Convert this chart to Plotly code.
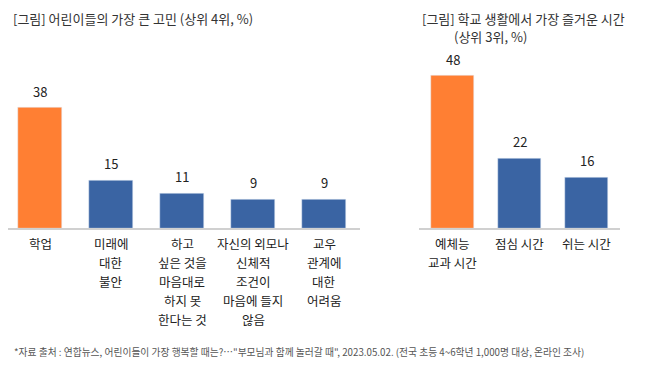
import plotly.graph_objects as go

left_cats = ["학업", "미래에<br>대한<br>불안", "하고<br>싶은 것을<br>마음대로<br>하지 못<br>한다는 것",
             "자신의 외모나<br>신체적<br>조건이<br>마음에 들지<br>않음", "교우<br>관계에<br>대한<br>어려움"]
left_vals = [38, 15, 11, 9, 9]
left_colors = ["#FF7F33", "#3A64A3", "#3A64A3", "#3A64A3", "#3A64A3"]

right_cats = ["예체능<br>교과 시간", "점심 시간", "쉬는 시간"]
right_vals = [48, 22, 16]
right_colors = ["#FF7F33", "#3A64A3", "#3A64A3"]

title_left = "[그림] 어린이들의 가장 큰 고민 (상위 4위, %)"
title_right_1 = "[그림] 학교 생활에서 가장 즐거운 시간"
title_right_2 = "(상위 3위, %)"
footer = "*자료 출처 : 연합뉴스, 어린이들이 가장 행복할 때는?…\"부모님과 함께 놀러갈 때\", 2023.05.02. (전국 초등 4~6학년 1,000명 대상, 온라인 조사)"

FONT = "Noto Sans CJK KR"
TXT = "#222222"

# page has 8px body margin; figure is sized to fit the 647x378 window
OFF = 8
W, H = 647 - OFF, 378 - OFF
def px(x):
    return max(0.0, (x - OFF) / W)
def py(y):
    return 1 - (y - OFF) / H

fig = go.Figure()
fig.add_trace(go.Bar(x=list(range(len(left_vals))), y=left_vals, marker_color=left_colors,
                     width=0.63, xaxis="x", yaxis="y", hoverinfo="skip"))
fig.add_trace(go.Bar(x=list(range(len(right_vals))), y=right_vals, marker_color=right_colors,
                     width=0.63, xaxis="x2", yaxis="y2", hoverinfo="skip"))

ann = []
def add_labels(cats, vals, xr, yr):
    for i, (c, v) in enumerate(zip(cats, vals)):
        ann.append(dict(x=i, y=v, xref=xr, yref=yr, text=str(v), showarrow=False,
                        yanchor="bottom", yshift=5, font=dict(size=13, color=TXT, family=FONT)))
        for j, line in enumerate(c.split("<br>")):
            ann.append(dict(x=i, y=0, xref=xr, yref=yr, text=line, showarrow=False,
                            yanchor="middle", yshift=-15 - 19 * j,
                            font=dict(size=12.5, color=TXT, family=FONT)))

add_labels(left_cats, left_vals, "x", "y")
add_labels(right_cats, right_vals, "x2", "y2")

tfont = dict(size=13, color="#333333", family=FONT)
ann.append(dict(x=px(12), y=py(8), xref="paper", yref="paper", text=title_left, showarrow=False,
                xanchor="left", yanchor="top", borderpad=0, font=tfont))
ann.append(dict(x=px(421), y=py(8), xref="paper", yref="paper", text=title_right_1, showarrow=False,
                xanchor="left", yanchor="top", borderpad=0, font=tfont))
ann.append(dict(x=px(453), y=py(26), xref="paper", yref="paper", text=title_right_2, showarrow=False,
                xanchor="left", yanchor="top", borderpad=0, font=tfont))
ann.append(dict(x=px(12), y=py(352), xref="paper", yref="paper", text=footer, showarrow=False,
                xanchor="left", yanchor="middle", font=dict(size=9.75, color="#555555", family=FONT)))

bottom = py(228)
top = py(228 - 158.5)
cat_w = 71.0
left_start = -0.5 + (OFF - 4.5) / cat_w
fig.update_layout(
    width=W, height=H, margin=dict(l=0, r=0, t=0, b=0),
    paper_bgcolor="white", plot_bgcolor="white", showlegend=False,
    bargap=0,
    xaxis=dict(domain=[0, px(359.5)], range=[left_start, 4.5], showticklabels=False, showgrid=False,
               zeroline=False, showline=True, linecolor="#D0D0D0", linewidth=1.5, ticks=""),
    yaxis=dict(domain=[bottom, top], range=[0, 50], visible=False),
    xaxis2=dict(domain=[px(419), px(620)], range=[-0.5, 2.5], showticklabels=False, showgrid=False,
                zeroline=False, showline=True, linecolor="#D0D0D0", linewidth=1.5, ticks="", anchor="y2"),
    yaxis2=dict(domain=[bottom, top], range=[0, 50], visible=False, anchor="x2"),
    annotations=ann,
)
fig.write_html("out.html")
